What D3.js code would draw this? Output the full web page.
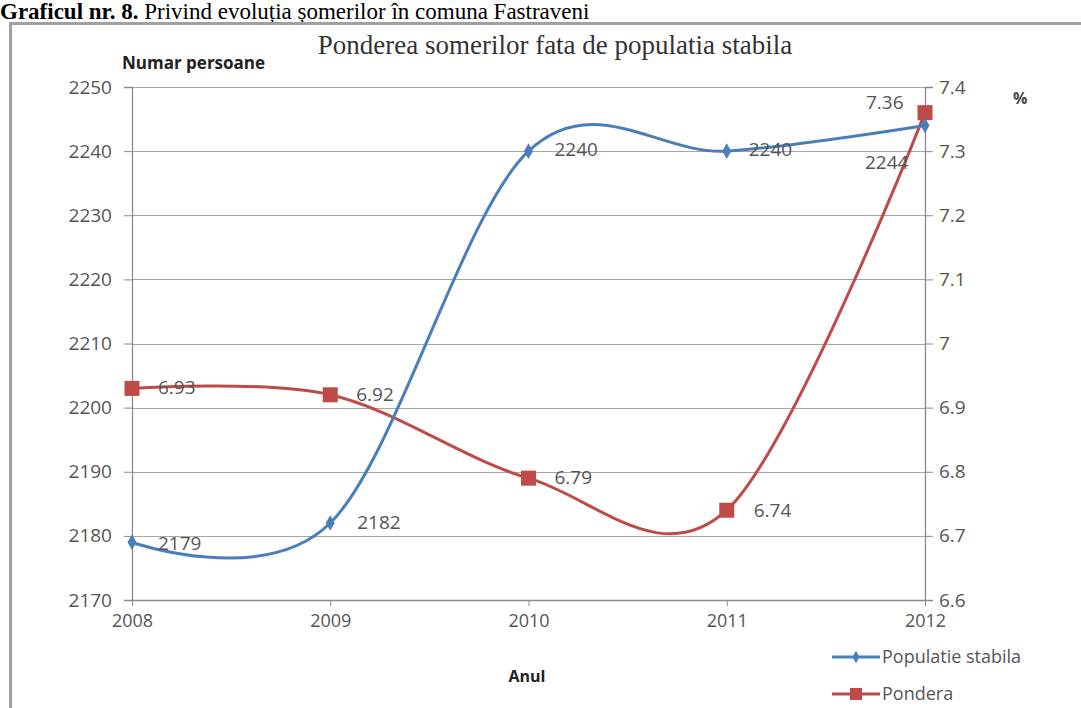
<!DOCTYPE html>
<html>
<head>
<meta charset="utf-8">
<script src="https://cdn.jsdelivr.net/npm/d3@7"></script>
<style>
  body { margin: 0; background: #fff; }
  svg text { font-family: "Open Sans", sans-serif; }
</style>
</head>
<body>
<div id="chart"></div>
<script>
"use strict";

// values
var years = [2008, 2009, 2010, 2011, 2012];
var populatie = [2179, 2182, 2240, 2240, 2244];
var pondera = [6.93, 6.92, 6.79, 6.74, 7.36];
var leftTicks = [2170, 2180, 2190, 2200, 2210, 2220, 2230, 2240, 2250];
var rightTicks = [6.6, 6.7, 6.8, 6.9, 7, 7.1, 7.2, 7.3, 7.4];

var W = 1081, H = 708;
var margin = {top: 87, right: 156, bottom: 108, left: 132};
var width = W - margin.left - margin.right;
var height = H - margin.top - margin.bottom;

var blue = "#4a7ebb", red = "#be4b48", txt = "#555";

var svg = d3.select("#chart").append("svg")
    .attr("width", W)
    .attr("height", H);

// caption from the page (partly cut in the source)
var cap = svg.append("text")
    .attr("x", 0)
    .attr("y", 19)
    .style("font-family", "'Liberation Serif', serif")
    .style("font-size", "23px")
    .attr("fill", "#000");
cap.append("tspan").style("font-weight", "bold").text("Graficul nr. 8. ");
cap.append("tspan").text("Privind evoluția șomerilor în comuna Fastraveni");

// outer chart frame
svg.append("path")
    .attr("d", "M10.5," + H + "V23.5H" + W)
    .attr("fill", "none")
    .attr("stroke", "#a0a0a0")
    .attr("stroke-width", 3);

var g = svg.append("g")
    .attr("transform", "translate(" + margin.left + "," + margin.top + ")");

var x = d3.scalePoint().domain(years).range([0, width]);
var y0 = d3.scaleLinear().domain([2170, 2250]).range([height, 0]);
var y1 = d3.scaleLinear().domain([6.6, 7.4]).range([height, 0]);

// gridlines
g.append("g")
  .selectAll("line")
  .data(leftTicks)
  .join("line")
    .attr("x1", 0)
    .attr("x2", width)
    .attr("y1", function(d) { return Math.round(y0(d)) + 0.5; })
    .attr("y2", function(d) { return Math.round(y0(d)) + 0.5; })
    .attr("stroke", "#a6a6a6")
    .attr("stroke-width", 1.2);

// axes
var axL = g.append("g")
    .call(d3.axisLeft(y0).tickValues(leftTicks).tickSize(8).tickPadding(12)
      .tickFormat(d3.format("d")));
var axR = g.append("g")
    .attr("transform", "translate(" + width + ",0)")
    .call(d3.axisRight(y1).tickValues(rightTicks).tickSize(8).tickPadding(6)
      .tickFormat(function(d) { return d === 7 ? "7" : d3.format(".1f")(d); }));
var axB = g.append("g")
    .attr("transform", "translate(0," + height + ")")
    .call(d3.axisBottom(x).tickSize(6).tickPadding(8).tickFormat(d3.format("d")));

[axL, axR, axB].forEach(function(a) {
  a.select(".domain").attr("stroke", "#8a8a8a").attr("stroke-width", 1.3);
  a.selectAll(".tick line").attr("stroke", "#8a8a8a");
  a.selectAll(".tick text")
    .attr("fill", txt)
    .style("font-size", "19px");
});
axB.select(".domain").attr("d", "M0,0.5H" + width);
axB.selectAll(".tick text").style("font-size", "18px");

// smoothed lines
var curve = d3.curveCardinal.tension(0);
var line0 = d3.line()
    .x(function(d, i) { return x(years[i]); })
    .y(function(d) { return y0(d); })
    .curve(curve);
var line1 = d3.line()
    .x(function(d, i) { return x(years[i]); })
    .y(function(d) { return y1(d); })
    .curve(curve);

g.append("path")
    .attr("d", line1(pondera))
    .attr("fill", "none")
    .attr("stroke", red)
    .attr("stroke-width", 3);

g.append("path")
    .attr("d", line0(populatie))
    .attr("fill", "none")
    .attr("stroke", blue)
    .attr("stroke-width", 3);

// markers
var sq = 15;
g.selectAll(".sq")
  .data(pondera)
  .join("rect")
    .attr("x", function(d, i) { return x(years[i]) - sq / 2; })
    .attr("y", function(d) { return y1(d) - sq / 2; })
    .attr("width", sq)
    .attr("height", sq)
    .attr("fill", red);

var diamond = d3.symbol().type(d3.symbolDiamond).size(70);
g.selectAll(".dm")
  .data(populatie)
  .join("path")
    .attr("d", diamond)
    .attr("transform", function(d, i) {
      return "translate(" + x(years[i]) + "," + y0(d) + ")";
    })
    .attr("fill", blue);

// data labels
var popOff = [[26, 8], [27, 6], [26, 5], [22, 5], [-60, 44]];
g.selectAll(".lp")
  .data(populatie)
  .join("text")
    .attr("x", function(d, i) { return x(years[i]) + popOff[i][0]; })
    .attr("y", function(d, i) { return y0(d) + popOff[i][1]; })
    .attr("fill", txt)
    .style("font-size", "19px")
    .text(function(d) { return d; });

var ponOff = [[26, 6], [26, 6], [26, 6], [27, 7], [-59, -4]];
g.selectAll(".lr")
  .data(pondera)
  .join("text")
    .attr("x", function(d, i) { return x(years[i]) + ponOff[i][0]; })
    .attr("y", function(d, i) { return y1(d) + ponOff[i][1]; })
    .attr("fill", txt)
    .style("font-size", "19px")
    .text(function(d) { return d3.format(".2f")(d); });

// titles
svg.append("text")
    .attr("x", 555)
    .attr("y", 54)
    .attr("text-anchor", "middle")
    .style("font-family", "'Liberation Serif', serif")
    .style("font-size", "27px")
    .attr("fill", "#333")
    .text("Ponderea somerilor fata de populatia stabila");

svg.append("text")
    .attr("x", 122)
    .attr("y", 69)
    .style("font-size", "17px")
    .style("font-weight", "bold")
    .attr("fill", "#222")
    .text("Numar persoane");

svg.append("text")
    .attr("x", 1013)
    .attr("y", 104)
    .style("font-size", "16px")
    .style("font-weight", "bold")
    .attr("fill", "#444")
    .text("%");

svg.append("text")
    .attr("x", 527)
    .attr("y", 682)
    .attr("text-anchor", "middle")
    .style("font-size", "16px")
    .style("font-weight", "bold")
    .attr("fill", "#222")
    .text("Anul");

// legend
var legend = [
  {name: "Populatie stabila", color: blue, shape: "diamond", y: 657},
  {name: "Pondera", color: red, shape: "square", y: 694}
];
var lg = svg.selectAll(".lg").data(legend).join("g")
    .attr("transform", function(d) { return "translate(832," + d.y + ")"; });
lg.append("line")
    .attr("x1", 0).attr("x2", 48)
    .attr("stroke", function(d) { return d.color; })
    .attr("stroke-width", 3);
lg.append("path")
    .attr("transform", "translate(24,0)")
    .attr("d", function(d) {
      return d.shape === "diamond"
        ? d3.symbol().type(d3.symbolDiamond).size(45)()
        : "M-6,-6H6V6H-6Z";
    })
    .attr("fill", function(d) { return d.color; });
lg.append("text")
    .attr("x", 50)
    .attr("y", 6)
    .style("font-size", "18px")
    .attr("fill", txt)
    .text(function(d) { return d.name; });
</script>
</body>
</html>
